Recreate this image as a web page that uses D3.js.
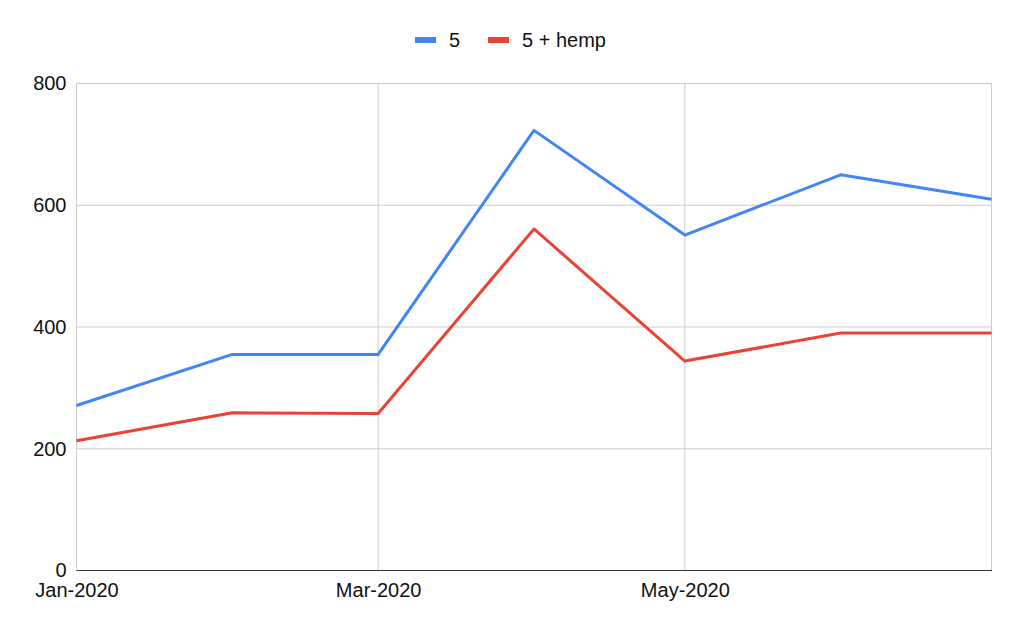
<!DOCTYPE html>
<meta charset="utf-8">
<script src="https://d3js.org/d3.v7.min.js"></script>
<style>
body { margin: 0; background: #fff; font-family: "Liberation Sans", Arial, sans-serif; }
.grid line { stroke: #ccc; stroke-width: 1; }
.tick text { font-size: 20px; fill: #111; }
</style>
<svg id="chart" width="1024" height="633"></svg>
<script>
// data
const months = ["2020-01-01", "2020-02-01", "2020-03-01", "2020-04-01", "2020-05-01", "2020-06-01", "2020-07-01"];
const seriesNames = ["5", "5 + hemp"];
const plain = [271, 355, 355, 723, 551, 650, 610];
const hemp = [213, 259, 258, 561, 344, 390, 390];
const yTicks = [0, 200, 400, 600, 800];
const xTickDates = ["2020-01-01", "2020-03-01", "2020-05-01"];
const colors = ["#4285F4", "#EA4335"];

const svg = d3.select("#chart");
const parse = d3.utcParse("%Y-%m-%d");
const dates = months.map(parse);

const m = { left: 76.5, right: 991.5, top: 83.5, bottom: 570.5 };

const x = d3.scaleUtc()
  .domain(d3.extent(dates))
  .range([m.left, m.right]);

const y = d3.scaleLinear()
  .domain([0, 800])
  .range([m.bottom, m.top]);

// horizontal grid
svg.append("g").attr("class", "grid")
  .selectAll("line")
  .data(yTicks.filter(d => d > 0))
  .join("line")
  .attr("x1", m.left).attr("x2", m.right)
  .attr("y1", d => y(d)).attr("y2", d => y(d));

// vertical grid (label dates + right edge)
svg.append("g").attr("class", "grid")
  .selectAll("line")
  .data(xTickDates.map(parse).concat([dates[dates.length - 1]]))
  .join("line")
  .attr("x1", d => x(d)).attr("x2", d => x(d))
  .attr("y1", m.top).attr("y2", m.bottom);

// y axis labels
svg.append("g")
  .attr("transform", `translate(${m.left},0)`)
  .call(d3.axisLeft(y).tickValues(yTicks).tickSize(0).tickPadding(10))
  .call(g => g.select(".domain").remove());

// x axis labels
svg.append("g")
  .attr("transform", `translate(0,${m.bottom})`)
  .call(d3.axisBottom(x).tickValues(xTickDates.map(parse))
    .tickFormat(d3.utcFormat("%b-%Y")).tickSize(0).tickPadding(12))
  .call(g => g.select(".domain").remove());

// baseline
svg.append("line")
  .attr("x1", m.left).attr("x2", m.right + 0.5)
  .attr("y1", y(0)).attr("y2", y(0))
  .attr("stroke", "#333").attr("stroke-width", 1.2);

const line = d3.line()
  .x((d, i) => x(dates[i]))
  .y(d => y(d));

[plain, hemp].forEach((vals, i) => {
  svg.append("path")
    .datum(vals)
    .attr("fill", "none")
    .attr("stroke", colors[i])
    .attr("stroke-width", 3)
    .attr("stroke-linejoin", "round")
    .attr("d", line);
});

// legend
const legend = svg.append("g").attr("transform", "translate(415,40)");
const legendX = [0, 73];
seriesNames.forEach((name, i) => {
  const g = legend.append("g").attr("transform", `translate(${legendX[i]},0)`);
  g.append("rect")
    .attr("x", 0).attr("y", -3)
    .attr("width", 21).attr("height", 6)
    .attr("fill", colors[i]);
  g.append("text")
    .attr("x", 34).attr("y", 0)
    .attr("dy", "0.35em")
    .style("font-size", "20px")
    .style("fill", "#111")
    .text(name);
});
</script>
